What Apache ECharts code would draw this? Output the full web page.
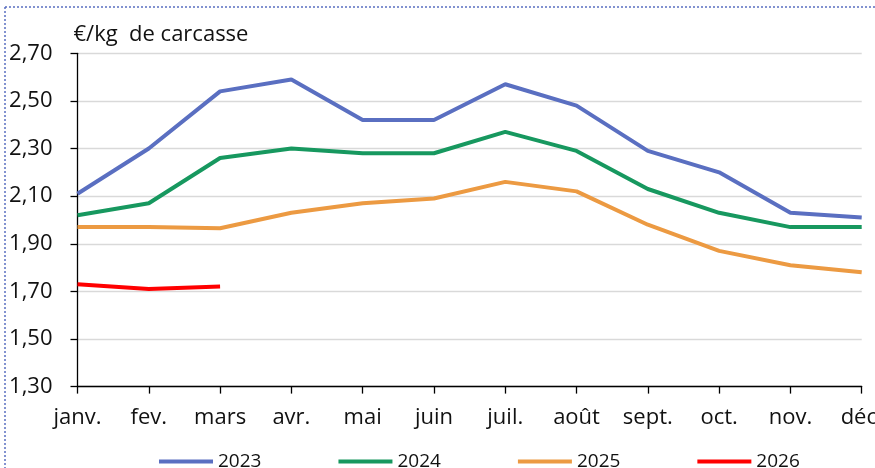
<!DOCTYPE html>
<html>
<head>
<meta charset="utf-8">
<script src="https://cdn.jsdelivr.net/npm/echarts@6/dist/echarts.min.js"></script>
<style>
html,body{margin:0;padding:0;background:#fff;overflow:hidden;}
#c{width:875px;height:468px;}
</style>
</head>
<body>
<div id="c"></div>
<script>
const months = ['janv.','fev.','mars','avr.','mai','juin','juil.','août','sept.','oct.','nov.','déc.'];
const s2023 = [2.11,2.30,2.54,2.59,2.42,2.42,2.57,2.48,2.29,2.20,2.03,2.01];
const s2024 = [2.02,2.07,2.26,2.30,2.28,2.28,2.37,2.29,2.13,2.03,1.97,1.97];
const s2025 = [1.97,1.97,1.965,2.03,2.07,2.09,2.16,2.12,1.98,1.87,1.81,1.78];
const s2026 = [1.73,1.71,1.72];
const seriesNames = ['2023','2024','2025','2026'];
const colors = ['#5A6FC1','#17985F','#EC9A42','#FF0000'];
const yMin = 1.3, yMax = 2.7, yStep = 0.2;

const FONT = 'Open Sans';
const chart = echarts.init(document.getElementById('c'));
const data = [s2023, s2024, s2025, s2026];
chart.setOption({
  animation: false,
  textStyle: {fontFamily: FONT},
  graphic: [
    {type:'line', shape:{x1:5,y1:7,x2:875,y2:7}, style:{stroke:'#5A6FC1', lineWidth:1.5, lineDash:[2,2]}},
    {type:'line', shape:{x1:5,y1:7,x2:5,y2:468}, style:{stroke:'#5A6FC1', lineWidth:1.5, lineDash:[2,2]}}
  ],
  grid: {left: 77.5, right: 13.3, top: 53.3, bottom: 81.4, containLabel: false, outerBoundsMode: 'none'},
  legend: {
    left: 154, top: 447,
    itemWidth: 54, itemHeight: 4, itemGap: 77,
    icon: 'rect',
    textStyle: {fontSize: 19, color: '#111', fontFamily: FONT},
    data: seriesNames.map((n,i)=>({name:n, itemStyle:{color:colors[i]}}))
  },
  xAxis: {
    type: 'category',
    data: months,
    boundaryGap: false,
    axisLine: {lineStyle: {color: '#000', width: 1.3}},
    axisTick: {show: true, length: 7, lineStyle: {color: '#000', width: 1.3}},
    axisLabel: {fontSize: 22, color: '#111', margin: 20, fontFamily: FONT, interval: 0, showMaxLabel: true, hideOverlap: false},
    splitLine: {show: false}
  },
  yAxis: {
    type: 'value',
    min: yMin, max: yMax, interval: yStep,
    name: '€/kg  de carcasse',
    nameLocation: 'end',
    nameGap: 8,
    nameTextStyle: {fontSize: 22, color: '#111', align: 'left', padding: [0,0,0,-4], fontFamily: FONT},
    axisLine: {show: true, lineStyle: {color: '#000', width: 1.3}},
    axisTick: {show: true, length: 7, lineStyle: {color: '#000', width: 1.3}},
    axisLabel: {fontSize: 22, color: '#111', margin: 25, fontFamily: FONT,
      formatter: v => v.toFixed(2).replace('.', ',')},
    splitLine: {show: true, lineStyle: {color: '#D9D9D9', width: 1.3}}
  },
  series: data.map((d,i)=>({
    name: seriesNames[i],
    type: 'line',
    data: d,
    symbol: 'none',
    lineStyle: {color: colors[i], width: 4},
    itemStyle: {color: colors[i]},
    z: 10 - i
  }))
});
</script>
</body>
</html>
